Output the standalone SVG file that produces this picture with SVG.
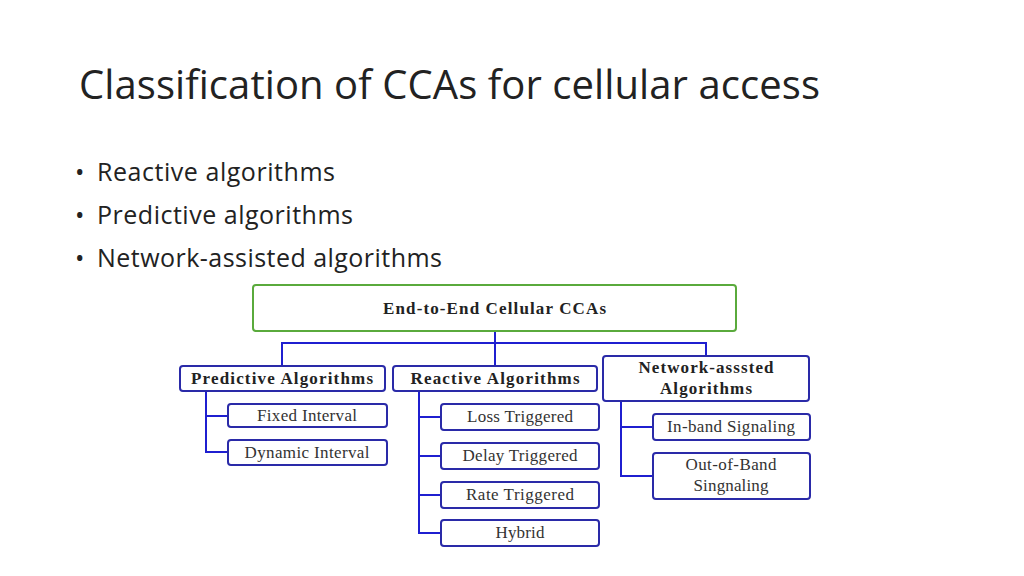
<svg xmlns="http://www.w3.org/2000/svg" width="1024" height="576" viewBox="0 0 1024 576">
<style>
.t{font-family:"Open Sans","Liberation Sans",sans-serif;fill:#222}
.b{fill:#fff;stroke:#2a2aa8;stroke-width:2}
.l{font-family:"Liberation Serif",serif;font-size:17px;fill:#333;text-anchor:middle}
.h{font-family:"Liberation Serif",serif;font-size:17px;font-weight:bold;fill:#222;text-anchor:middle}
.c{fill:none;stroke:#1f1fd0;stroke-width:2}
</style>
<rect width="1024" height="576" fill="#fff"/>
<text class="t" x="79" y="99" font-size="40" textLength="741">Classification of CCAs for cellular access</text>
<g class="t" font-size="25">
<text x="75" y="181">•</text><text x="97" y="181" textLength="238">Reactive algorithms</text>
<text x="75" y="224">•</text><text x="97" y="224" textLength="256">Predictive algorithms</text>
<text x="75" y="267">•</text><text x="97" y="267" textLength="345">Network-assisted algorithms</text>
</g>
<g id="connectors" class="c">
<path d="M495 331V366M282 366V343H706V356"/>
<path d="M206 391V452H228M206 416H228"/>
<path d="M419 391V533H441M419 417H441M419 456H441M419 495H441"/>
<path d="M621 401V476H653M621 427H653"/>
</g>
<g id="root"><rect x="253" y="285" width="483" height="46" rx="3" fill="#fff" stroke="#5aaa3c" stroke-width="2"/><text class="h" x="494.500" y="314" textLength="223">End-to-End Cellular CCAs</text></g>
<g id="pred"><rect class="b" x="180" y="366" width="205" height="25" rx="3"/><text class="h" x="282" y="384" textLength="182">Predictive Algorithms</text></g>
<g id="react"><rect class="b" x="393" y="366" width="204" height="25" rx="3"/><text class="h" x="495" y="384" textLength="169">Reactive Algorithms</text></g>
<g id="net"><rect class="b" x="603" y="356" width="206" height="45" rx="3"/><text class="h" x="706" y="373" textLength="135">Network-asssted</text><text class="h" x="706" y="394" textLength="92">Algorithms</text></g>
<g id="fixed"><rect class="b" x="228" y="404" width="159" height="23" rx="3"/><text class="l" x="307" y="421" textLength="100">Fixed Interval</text></g>
<g id="dyn"><rect class="b" x="228" y="440" width="159" height="25" rx="3"/><text class="l" x="307" y="458" textLength="125">Dynamic Interval</text></g>
<g id="loss"><rect class="b" x="441" y="404" width="158" height="26" rx="3"/><text class="l" x="520" y="422" textLength="106">Loss Triggered</text></g>
<g id="delay"><rect class="b" x="441" y="443" width="158" height="26" rx="3"/><text class="l" x="520" y="461" textLength="115">Delay Triggered</text></g>
<g id="rate"><rect class="b" x="441" y="482" width="158" height="26" rx="3"/><text class="l" x="520" y="500" textLength="108">Rate Triggered</text></g>
<g id="hybrid"><rect class="b" x="441" y="520" width="158" height="26" rx="3"/><text class="l" x="520" y="538" textLength="49">Hybrid</text></g>
<g id="inband"><rect class="b" x="653" y="414" width="157" height="26" rx="3"/><text class="l" x="731" y="432" textLength="128">In-band Signaling</text></g>
<g id="oob"><rect class="b" x="653" y="453" width="157" height="46" rx="3"/><text class="l" x="731" y="470" textLength="91">Out-of-Band</text><text class="l" x="731" y="491" textLength="75">Singnaling</text></g>
</svg>
